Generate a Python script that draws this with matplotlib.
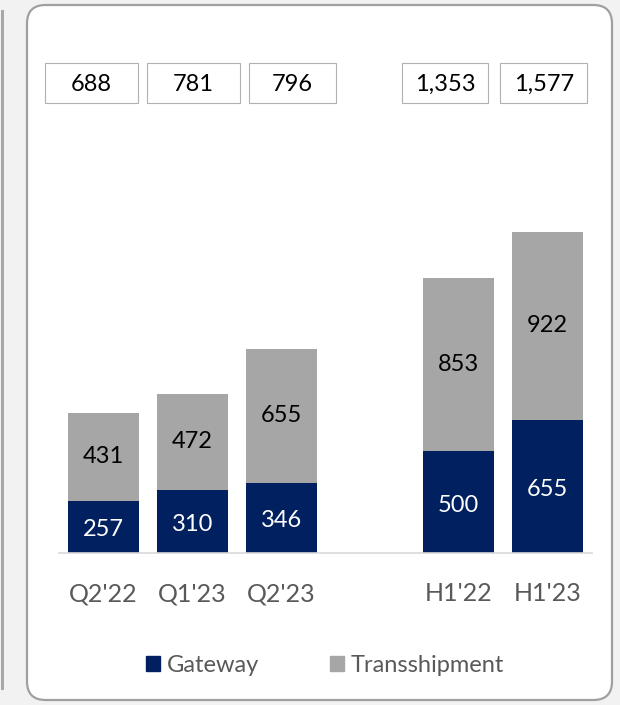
"""Volumes chart: Gateway vs Transshipment, stacked bars with total boxes."""
import numpy as np
import matplotlib.pyplot as plt
from matplotlib.patches import FancyBboxPatch, Rectangle
from matplotlib.transforms import blended_transform_factory

periods = ["Q2'22", "Q1'23", "Q2'23", "H1'22", "H1'23"]
gateway = [257, 310, 346, 500, 655]
transship = [431, 472, 655, 853, 922]
totals = ['688', '781', '796', '1,353', '1,577']

NAVY = '#002060'
GREY = '#a6a6a6'
TXT = '#595959'
FS = 17

plt.rcParams['font.family'] = ['Lato', 'DejaVu Sans']

fig = plt.figure(figsize=(6.2, 7.05), dpi=100, facecolor='#f2f2f2')

# panel frames (figure pixels -> fraction)
W, H = 620, 705
fig.patches.append(FancyBboxPatch((27 / W, 5 / H), 585 / W, 695 / H,
                                  boxstyle='round,pad=0,rounding_size=0.03',
                                  transform=fig.transFigure, facecolor='white',
                                  edgecolor='#a0a0a0', lw=1.6, zorder=-5,
                                  mutation_aspect=W / H))
fig.patches.append(Rectangle((1 / W, 15 / H), 3 / W, 680 / H, transform=fig.transFigure,
                             facecolor='#a8a8a8', edgecolor='none', zorder=-5))

ax = fig.add_axes([59 / W, 1 - 553 / H, 533 / W, 513 / H])
ax.set_facecolor('none')

x = np.array([0, 1, 2, 4, 5])
bw = 0.8
ax.bar(x, gateway, width=bw, color=NAVY, zorder=2)
ax.bar(x, transship, width=bw, bottom=gateway, color=GREY, zorder=2)

for xi, g, t in zip(x, gateway, transship):
    ax.text(xi, g / 2 - 15, f'{g}', ha='center', va='center', color='white', fontsize=FS, zorder=3)
    ax.text(xi, g + t / 2, f'{t}', ha='center', va='center', color='black', fontsize=FS, zorder=3)

# total boxes above chart (slightly offset from bars, as in the source slide)
box_shift = [-0.135, 0.013, 0.13, -0.153, -0.044]
box_w = [1.047, 1.047, 0.98, 0.968, 0.98]
tr = blended_transform_factory(ax.transData, ax.transAxes)
for xi, dx, bwid, lab in zip(x, box_shift, box_w, totals):
    cx = xi + dx
    ax.add_patch(Rectangle((cx - bwid / 2, 0.877), bwid, 0.078, transform=tr,
                           facecolor='white', edgecolor='#b0b0b0', lw=0.8,
                           clip_on=False))
    ax.text(cx, 0.914, lab, transform=tr, ha='center', va='center',
            color='black', fontsize=FS)

ax.set_xlim(-0.5, 5.5)
ax.set_ylim(0, 2520)
ax.set_xticks(x)
ax.set_xticklabels(periods, fontsize=18, color=TXT)
ax.tick_params(axis='x', length=0, pad=21)
ax.set_yticks([])
for s in ['top', 'right', 'left']:
    ax.spines[s].set_visible(False)
ax.spines['bottom'].set_color('#d9d9d9')
ax.spines['bottom'].set_linewidth(1.2)

handles = [Rectangle((0, 0), 1, 1, color=NAVY), Rectangle((0, 0), 1, 1, color=GREY)]
leg = fig.legend(handles, ['Gateway', 'Transshipment'], loc='center',
                 bbox_to_anchor=(325 / W, 1 - 665 / H), ncol=2, frameon=False,
                 fontsize=FS, handlelength=0.6, handleheight=0.6,
                 handletextpad=0.3, columnspacing=3.0)
for t in leg.get_texts():
    t.set_color(TXT)

fig.savefig('out.png', dpi=100, facecolor=fig.get_facecolor())
